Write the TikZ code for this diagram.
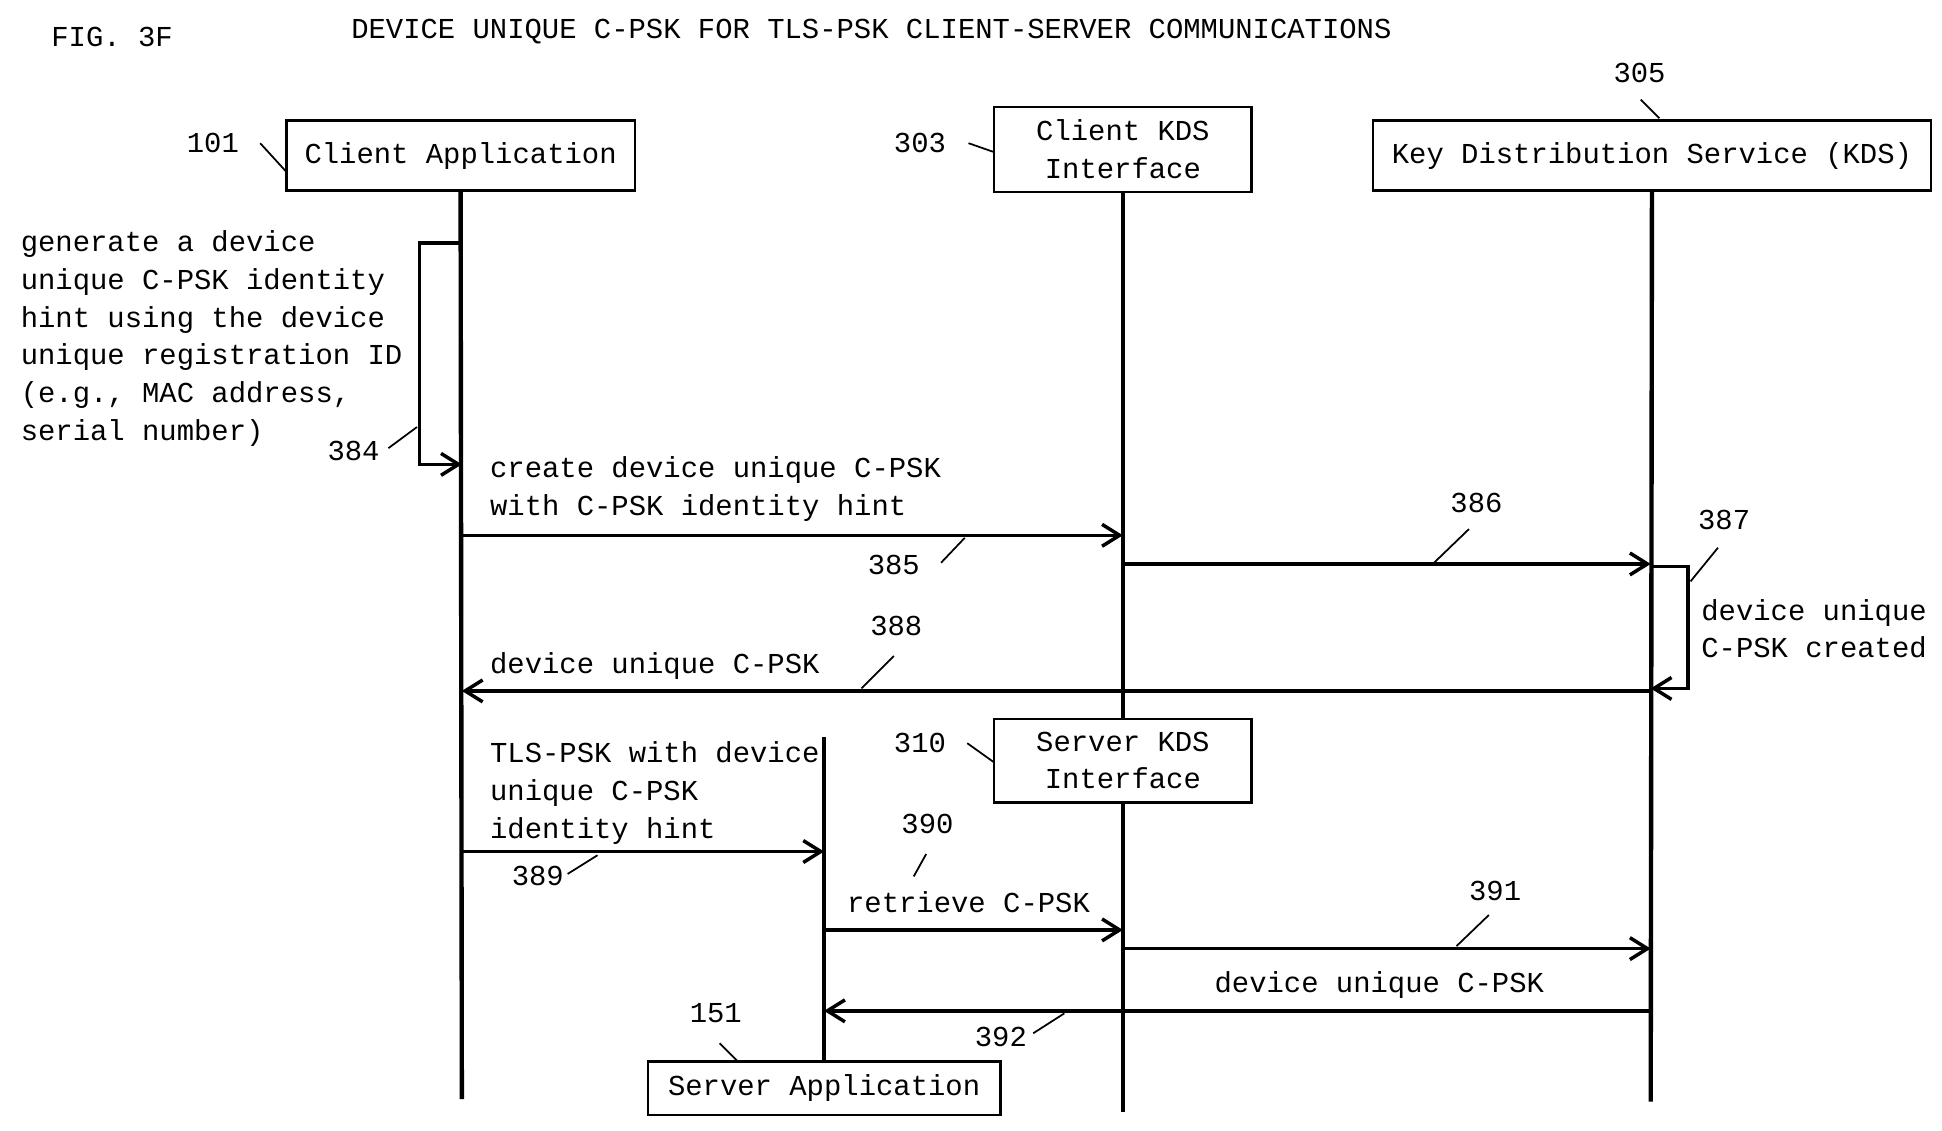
\documentclass[tikz,border=0pt]{standalone}
\usepackage{fontspec}
\setmonofont{Liberation Mono}
\usetikzlibrary{arrows.meta,positioning}
\begin{document}
\begin{tikzpicture}[
  x=0.01cm, y=-0.01cm,
  font=\ttfamily\fontsize{6.6}{8.6}\selectfont,
  entity/.style={rectangle, draw, line width=0.6pt, inner sep=3pt, align=center},
  life/.style={line width=1pt},
  msg/.style={-{Straight Barb[length=4pt,width=5pt]}, line width=0.8pt},
  lead/.style={line width=0.4pt},
  txt/.style={anchor=west, align=left, inner sep=0pt},
  ref/.style={inner sep=1pt}
  ]
  \useasboundingbox (0,0) rectangle (1560,908);

  % headings
  \node (fig) at (90,30) {FIG. 3F};
  \node (title) at (700,25) {DEVICE UNIQUE C-PSK FOR TLS-PSK CLIENT-SERVER COMMUNICATIONS};

  % entities
  \node[entity, minimum width=2.8cm, minimum height=0.56cm] (capp) at (370,125) {Client Application};
  \node[entity, minimum width=2.07cm, minimum height=0.66cm] (ckds) at (902,120) {Client KDS\\Interface};
  \node[entity, minimum width=4.48cm, minimum height=0.56cm] (kds) at (1327,125) {Key Distribution Service (KDS)};
  \node[entity, minimum width=2.07cm, minimum height=0.67cm] (skds) at (902,611) {Server KDS\\Interface};
  \node[entity, minimum width=2.83cm, minimum height=0.43cm] (sapp) at (662,874) {Server Application};

  % lifelines
  \coordinate (cappEnd) at (371,883);
  \coordinate (kdsEnd) at (1326,885);
  \coordinate (skdsEnd) at (902,893);
  \coordinate (sappTop) at (662,592);
  \draw[life] (capp.south) -- (cappEnd);
  \draw[life] (ckds.south) -- (skds.north);
  \draw[life] (skds.south) -- (skdsEnd);
  \draw[life] (kds.south) -- (kdsEnd);
  \draw[life] (sappTop) -- (sapp.north);

  % reference numerals
  \node[ref] (r101) at (171,115) {101};
  \draw[lead] (209,115) -- (230,138);
  \node[ref] (r303) at (739,115) {303};
  \draw[lead] (778,115) -- (798,122);
  \node[ref] (r305) at (1317,59) {305};
  \draw[lead] (1318,80) -- (1333,95);
  \node[ref] (r310) at (739,597) {310};
  \draw[lead] (777,597) -- (798,612);
  \node[ref] (r151) at (575,814) {151};
  \draw[lead] (578,838) -- (592,852);

  % 384: self step at client
  \coordinate (s384a) at (371,195);
  \coordinate (s384b) at (371,373);
  \draw[msg] (s384a) -- (337,195) -- (337,373) -- (s384b);
  \node[txt] (t384) at (16,272) {generate a device\\unique C-PSK identity\\hint using the device\\unique registration ID\\(e.g., MAC address,\\serial number)};
  \node[ref] (r384) at (284,362) {384};
  \draw[lead] (312,360) -- (335,343);

  % 385
  \coordinate (a385) at (371,430);
  \coordinate (b385) at (902,430);
  \draw[msg] (a385) -- (b385);
  \node[txt] (t385) at (393,393) {create device unique C-PSK\\with C-PSK identity hint};
  \node[ref] (r385) at (718,454) {385};
  \draw[lead] (756,452) -- (775,432);

  % 386
  \coordinate (a386) at (902,453);
  \coordinate (b386) at (1326,453);
  \draw[msg] (a386) -- (b386);
  \node[ref] (r386) at (1186,404) {386};
  \draw[lead] (1152,452) -- (1180,425);

  % 387: self step at KDS
  \coordinate (s387a) at (1326,455);
  \coordinate (s387b) at (1326,553);
  \draw[msg] (s387a) -- (1356,455) -- (1356,553) -- (s387b);
  \node[txt] (t387) at (1366,505) {device unique\\C-PSK created};
  \node[ref] (r387) at (1385,418) {387};
  \draw[lead] (1358,467) -- (1380,440);

  % 388
  \coordinate (a388) at (1326,555);
  \coordinate (b388) at (371,555);
  \draw[msg] (a388) -- (b388);
  \node[txt] (t388) at (393,535) {device unique C-PSK};
  \node[ref] (r388) at (720,503) {388};
  \draw[lead] (692,553) -- (718,527);

  % 389
  \coordinate (a389) at (371,684);
  \coordinate (b389) at (662,684);
  \draw[msg] (a389) -- (b389);
  \node[txt] (t389) at (393,637) {TLS-PSK with device\\unique C-PSK\\identity hint};
  \node[ref] (r389) at (432,704) {389};
  \draw[lead] (456,702) -- (480,687);

  % 390
  \coordinate (a390) at (662,747);
  \coordinate (b390) at (902,747);
  \draw[msg] (a390) -- (b390);
  \node (t390) at (778,725) {retrieve C-PSK};
  \node[ref] (r390) at (745,662) {390};
  \draw[lead] (734,704) -- (744,686);

  % 391
  \coordinate (a391) at (902,762);
  \coordinate (b391) at (1326,762);
  \draw[msg] (a391) -- (b391);
  \node[ref] (r391) at (1201,716) {391};
  \draw[lead] (1170,760) -- (1196,735);

  % 392
  \coordinate (a392) at (1326,812);
  \coordinate (b392) at (662,812);
  \draw[msg] (a392) -- (b392);
  \node (t392) at (1108,791) {device unique C-PSK};
  \node[ref] (r392) at (804,833) {392};
  \draw[lead] (830,830) -- (855,814);
\end{tikzpicture}
\end{document}
